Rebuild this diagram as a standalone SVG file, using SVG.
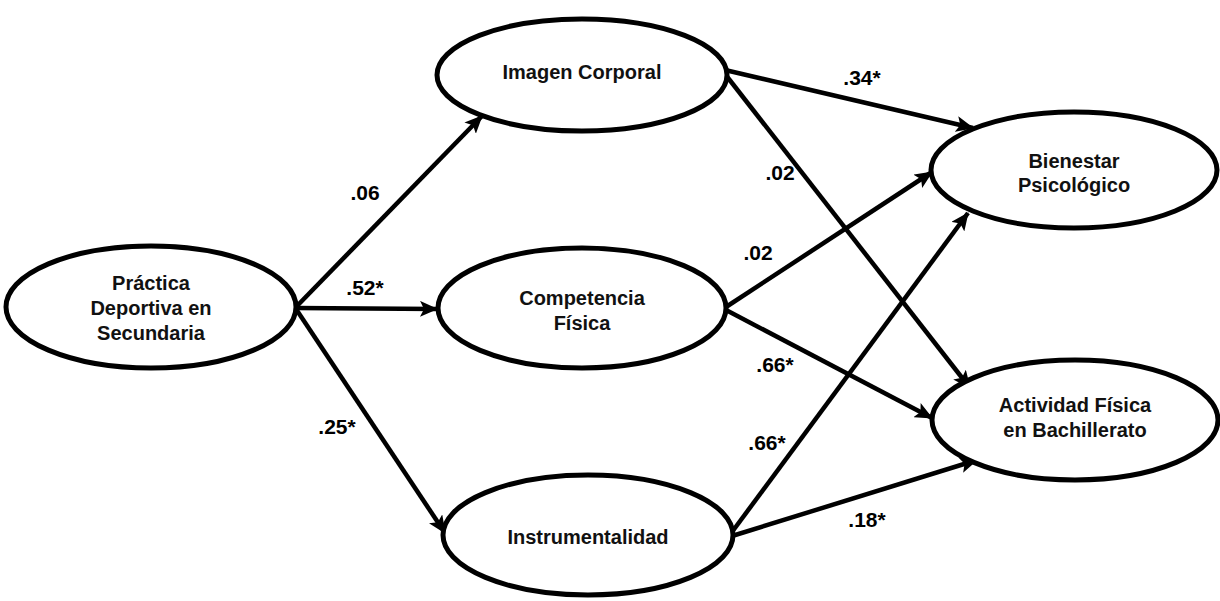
<svg xmlns="http://www.w3.org/2000/svg" width="1220" height="601" viewBox="0 0 1220 601">
<style>
.node{fill:#fff;stroke:#000;stroke-width:5}
.nt{font-family:"Liberation Sans",Arial,sans-serif;font-weight:bold;font-size:20px;fill:#111;text-anchor:middle}
.lbl{font-family:"Liberation Sans",Arial,sans-serif;font-weight:bold;font-size:21px;fill:#000;text-anchor:middle}
.edge{stroke:#000;stroke-width:4.5;fill:none;marker-end:url(#ah)}
</style>
<defs>
<marker id="ah" markerUnits="userSpaceOnUse" markerWidth="20" markerHeight="16" refX="17" refY="8" orient="auto">
<path d="M0,0 L18,8 L0,16 L4,8 Z" fill="#000"/>
</marker>
</defs>
<rect width="1220" height="601" fill="#fff"/>
<g id="connectors">
<line class="edge" x1="296" y1="307" x2="482" y2="116"/>
<line class="edge" x1="296" y1="308" x2="437" y2="309"/>
<line class="edge" x1="296" y1="309" x2="445" y2="533"/>
<line class="edge" x1="725" y1="70" x2="973" y2="128"/>
<line class="edge" x1="725" y1="74" x2="970" y2="388"/>
<line class="edge" x1="726" y1="307" x2="932" y2="172"/>
<line class="edge" x1="726" y1="310" x2="932" y2="418"/>
<line class="edge" x1="732" y1="532" x2="968" y2="213"/>
<line class="edge" x1="732" y1="536" x2="977" y2="460"/>
</g>
<g id="labels">
<text class="lbl" x="365" y="200">.06</text>
<text class="lbl" x="365" y="295">.52*</text>
<text class="lbl" x="337" y="434">.25*</text>
<text class="lbl" x="862" y="85">.34*</text>
<text class="lbl" x="780" y="180">.02</text>
<text class="lbl" x="758" y="260">.02</text>
<text class="lbl" x="775" y="372">.66*</text>
<text class="lbl" x="767" y="450">.66*</text>
<text class="lbl" x="867" y="527">.18*</text>
</g>
<g id="practica">
<ellipse class="node" cx="151" cy="307" rx="145" ry="61"/>
<text class="nt" x="151" y="290">Práctica</text>
<text class="nt" x="151" y="315">Deportiva en</text>
<text class="nt" x="151" y="340">Secundaria</text>
</g>
<g id="imagen">
<ellipse class="node" cx="582" cy="75" rx="145" ry="56"/>
<text class="nt" x="582" y="79">Imagen Corporal</text>
</g>
<g id="competencia">
<ellipse class="node" cx="582" cy="308" rx="144" ry="60"/>
<text class="nt" x="582" y="305">Competencia</text>
<text class="nt" x="582" y="330">Física</text>
</g>
<g id="instrumentalidad">
<ellipse class="node" cx="588" cy="535" rx="145" ry="60"/>
<text class="nt" x="588" y="544">Instrumentalidad</text>
</g>
<g id="bienestar">
<ellipse class="node" cx="1074" cy="170" rx="143" ry="58"/>
<text class="nt" x="1074" y="168">Bienestar</text>
<text class="nt" x="1074" y="192">Psicológico</text>
</g>
<g id="actividad">
<ellipse class="node" cx="1075" cy="420" rx="143" ry="60"/>
<text class="nt" x="1075" y="412">Actividad Física</text>
<text class="nt" x="1075" y="437">en Bachillerato</text>
</g>
</svg>
